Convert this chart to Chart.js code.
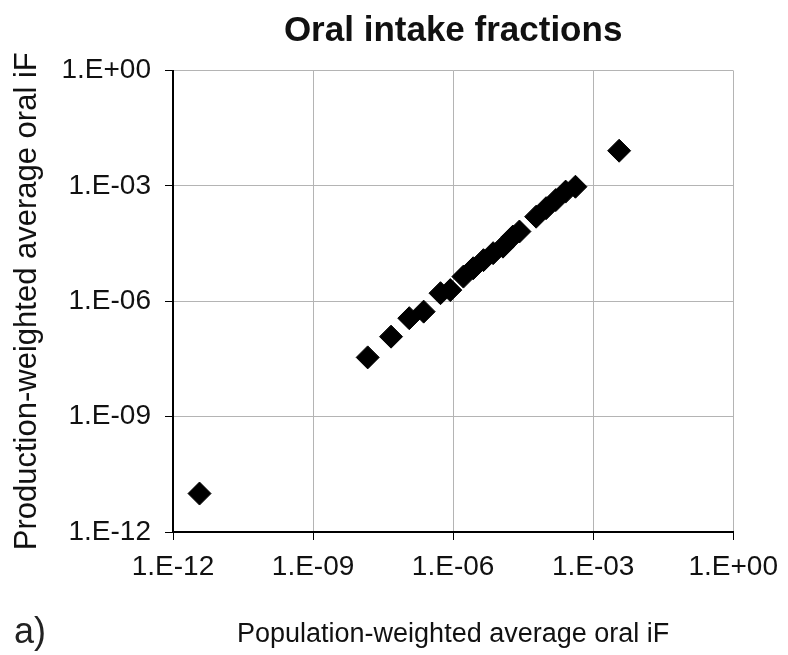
<!DOCTYPE html>
<html>
<head>
<meta charset="utf-8">
<title>Oral intake fractions</title>
<script src="https://cdn.jsdelivr.net/npm/chart.js@4.4.1/dist/chart.umd.min.js"></script>
<style>
    html, body { margin: 0; padding: 0; background: #fff; }
    #wrap { width: 788px; height: 655px; position: relative; }
</style>
</head>
<body>
<div id="wrap"><canvas id="myChart"></canvas></div>
<script>
// data (log-log scatter)
const popWeightedIF = [3.7e-12, 1.48e-8, 4.68e-8, 1.15e-7, 2.34e-7, 5.37e-7, 8.7e-7, 1.66e-6, 2.69e-6, 4.47e-6, 7.2e-6, 1.17e-5, 1.9e-5, 2.63e-5, 6.0e-5, 9.8e-5, 1.58e-4, 2.57e-4, 4.17e-4, 3.6e-3];
const prodWeightedIF = [1.0e-11, 3.47e-8, 1.2e-7, 3.63e-7, 5.37e-7, 1.62e-6, 1.95e-6, 4.37e-6, 7.2e-6, 1.17e-5, 1.78e-5, 2.63e-5, 4.8e-5, 6.5e-5, 1.58e-4, 2.63e-4, 4.27e-4, 7.1e-4, 9.5e-4, 8.2e-3];

const tickValues = [1e-12, 1e-9, 1e-6, 1e-3, 1];
const tickLabels = ['1.E-12', '1.E-09', '1.E-06', '1.E-03', '1.E+00'];

const chartTitle = 'Oral intake fractions';
const xTitle = 'Population-weighted average oral iF';
const yTitle = 'Production-weighted average oral iF';
const panelLabel = 'a)';

const sans = '"Liberation Sans", Arial, sans-serif';

function fixTicks(scale) {
    scale.ticks = tickValues.map(v => ({ value: v }));
}
function tickText(value) {
    const i = tickValues.findIndex(v => Math.abs(Math.log10(v) - Math.log10(value)) < 1e-6);
    return i >= 0 ? tickLabels[i] : '';
}

// 'a)' in the lower left corner
const panelLabelPlugin = {
    id: 'panelLabel',
    afterDraw(chart) {
        const ctx = chart.ctx;
        ctx.save();
        ctx.font = '36px ' + sans;
        ctx.fillStyle = '#222';
        ctx.textBaseline = 'alphabetic';
        ctx.fillText(panelLabel, 14, 643);
        ctx.restore();
    }
};

const points = popWeightedIF.map((x, i) => ({ x: x, y: prodWeightedIF[i] }));

new Chart(document.getElementById('myChart'), {
    type: 'scatter',
    data: {
        datasets: [{
            label: 'iF',
            data: points,
            pointStyle: 'rectRot',
            pointRadius: 11.5,
            pointHoverRadius: 11.5,
            backgroundColor: '#000',
            borderColor: '#000',
            borderWidth: 1,
        }]
    },
    options: {
        responsive: true,
        maintainAspectRatio: false,
        animation: false,
        layout: {
            padding: { left: 0, right: 49, top: 0, bottom: 0 }
        },
        plugins: {
            legend: { display: false },
            tooltip: { enabled: false },
            title: {
                display: true,
                text: chartTitle,
                fullSize: false,
                color: '#111',
                font: { family: sans, size: 35, weight: 'bold' },
                padding: { top: 10, bottom: 18.5 }
            }
        },
        scales: {
            x: {
                type: 'logarithmic',
                min: 1e-12,
                max: 1,
                afterBuildTicks: fixTicks,
                afterFit(scale) { scale.height = 123; },
                border: { display: true, color: '#000', width: 2 },
                grid: { color: '#b4b4b4', lineWidth: 1, tickColor: '#000', tickLength: 8 },
                ticks: {
                    autoSkip: false,
                    maxRotation: 0,
                    padding: 10,
                    color: '#111',
                    font: { family: sans, size: 28 },
                    callback: tickText
                },
                title: {
                    display: true,
                    text: xTitle,
                    color: '#111',
                    font: { family: sans, size: 27 },
                    padding: { top: 0, bottom: 4 }
                }
            },
            y: {
                type: 'logarithmic',
                min: 1e-12,
                max: 1,
                afterBuildTicks: fixTicks,
                afterFit(scale) { scale.width = 173; },
                border: { display: true, color: '#000', width: 2 },
                grid: { color: '#b4b4b4', lineWidth: 1, tickColor: '#000', tickLength: 8 },
                ticks: {
                    autoSkip: false,
                    padding: 14,
                    color: '#111',
                    font: { family: sans, size: 28 },
                    callback: tickText
                },
                title: {
                    display: true,
                    text: yTitle,
                    color: '#111',
                    font: { family: sans, size: 31 },
                    padding: { top: 9, bottom: 0 }
                }
            }
        }
    },
    plugins: [panelLabelPlugin]
});
</script>
</body>
</html>
